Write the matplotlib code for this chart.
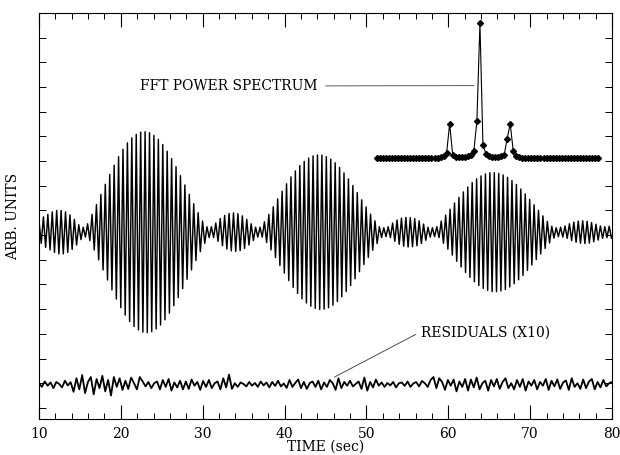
import numpy as np
import matplotlib
matplotlib.use("Agg")
import matplotlib.pyplot as plt
from matplotlib.ticker import MultipleLocator

plt.rcParams['font.family'] = ['DejaVu Serif']

# carrier peak amplitudes, one per cycle (arb. units)
signal_peaks = [
    0.45, 0.62, 0.72, 0.82, 0.88, 0.88, 0.82, 0.70, 0.52, 0.30,
    0.20,
    0.34, 0.72, 1.12, 1.53, 1.94, 2.34, 2.71, 3.06, 3.36, 3.62, 3.82, 3.96, 4.05,
    4.07, 4.03, 3.92, 3.76, 3.55, 3.28, 2.98, 2.65, 2.29, 1.91, 1.53, 1.15, 0.79, 0.45,
    0.22, 0.22,
    0.37, 0.55, 0.68, 0.76, 0.78, 0.75, 0.66, 0.52, 0.34,
    0.20, 0.20,
    0.42, 0.72, 1.03, 1.35, 1.66, 1.96, 2.24, 2.48, 2.70, 2.87, 3.00, 3.09, 3.13,
    3.12, 3.06, 2.96, 2.81, 2.62, 2.40, 2.16, 1.89, 1.60, 1.31, 1.02, 0.73, 0.46,
    0.22, 0.18, 0.22,
    0.37, 0.49, 0.57, 0.60, 0.59, 0.55, 0.46, 0.33,
    0.20, 0.18,
    0.22, 0.45, 0.69, 0.93, 1.18, 1.41, 1.63, 1.83, 2.01, 2.16, 2.28, 2.36, 2.41,
    2.41, 2.38, 2.32, 2.22, 2.09, 1.93, 1.75, 1.55, 1.33, 1.11, 0.88, 0.66, 0.44,
    0.24, 0.18, 0.20,
    0.25, 0.34, 0.41, 0.45, 0.46, 0.44, 0.39, 0.32, 0.25, 0.22, 0.24,
]
signal_center = 7.12
t_start, t_end = 10.0, 80.0
half_period = 0.27

# residuals (x10)
residuals = [
    0.05, -0.10, 0.12, -0.05, 0.08, -0.15, 0.10, 0.02, -0.12, 0.15, -0.04, 0.09,
    -0.30, 0.25, -0.20, 0.38, -0.35, 0.10, 0.30, -0.40, 0.22, -0.15, 0.35, -0.28,
    0.18, -0.45, 0.30, -0.10, 0.25,
    -0.22, 0.15, -0.18, 0.28, 0.05, -0.20, 0.30, 0.12, -0.08, 0.10, -0.15, 0.05,
    0.12, -0.20, 0.18, -0.10, 0.22, -0.25, 0.08, -0.12,
    0.15, -0.20, 0.12, -0.18, 0.20, -0.05, 0.10, -0.22, 0.14, -0.10, 0.18, -0.15,
    0.05, 0.12, -0.20, 0.25, -0.12,
    0.40, -0.18, 0.05, -0.10, 0.08, 0.02, -0.08, 0.10, -0.05, 0.06, -0.10, 0.12,
    -0.04, 0.08,
    -0.12, 0.10, -0.06, 0.15, -0.08, 0.04, -0.14, 0.18, -0.10, 0.06, 0.20, -0.15,
    0.10, -0.18, 0.05, 0.12, -0.10, 0.15, -0.20, 0.08,
    -0.10, 0.18, 0.05, -0.22, 0.25, -0.15, 0.10, -0.05, 0.15, -0.08, 0.02, 0.12,
    -0.18, 0.28, -0.25, 0.10, -0.12, 0.20, -0.05, 0.08,
    -0.10, 0.06, -0.04, 0.10, -0.12, 0.05, 0.08, -0.06, 0.12, -0.10, 0.04, 0.10,
    -0.08, 0.14, 0.05, -0.10, 0.18,
    0.30, -0.15, 0.25, 0.10, -0.22, 0.18, -0.05, 0.20, -0.28, 0.12, -0.10, 0.22,
    -0.25, 0.20, -0.12, 0.28, -0.20, 0.05, 0.15, -0.25, 0.18, -0.08, 0.22, -0.18,
    0.10, 0.25, -0.15, 0.05, -0.20, 0.18, -0.10, 0.22, -0.25, 0.12, -0.05,
    0.18, -0.20, 0.10, -0.05, 0.22, -0.22, 0.15, -0.08, 0.20, -0.18, 0.08, 0.16,
    -0.22, 0.25, -0.10, 0.05, -0.18, 0.20, -0.15, 0.12, 0.22, -0.20, 0.10, -0.12,
    0.18, -0.08, 0.05, 0.10,
]
resid_offset = 0.95

# FFT power spectrum (relative), one value per frequency bin
fft_power = [
    0.004, 0.004, 0.004, 0.004, 0.004, 0.004, 0.004, 0.004, 0.005, 0.005,
    0.005, 0.005, 0.005, 0.005, 0.006, 0.006, 0.006, 0.007, 0.007, 0.008,
    0.009, 0.012, 0.020, 0.045, 0.260, 0.030, 0.015, 0.012, 0.012, 0.015,
    0.020, 0.030, 0.060, 0.280, 1.000, 0.100, 0.040, 0.022, 0.016, 0.014,
    0.016, 0.020, 0.030, 0.150, 0.260, 0.060, 0.020, 0.012, 0.009, 0.008,
    0.007, 0.006, 0.006, 0.005, 0.005, 0.005, 0.005, 0.004, 0.004, 0.004,
    0.004, 0.004, 0.004, 0.004, 0.004, 0.004, 0.004, 0.004, 0.004, 0.004,
    0.004, 0.004, 0.004, 0.004,
]

x_ticks = [10, 20, 30, 40, 50, 60, 70, 80]
x_ticklabels = ['10', '20', '30', '40', '50', '60', '70', '80']

fig = plt.figure(figsize=(6.2, 4.55), dpi=100)
ax = fig.add_axes([39 / 620, 1 - 419 / 455, 573 / 620, 406 / 455])

# zigzag through the carrier peaks and troughs
amps = np.repeat(signal_peaks, 2)
signs = np.tile([1, -1], len(signal_peaks))
t_sig = t_start + half_period * np.arange(len(amps))
ax.plot(t_sig, signal_center + signs * amps, color='black', lw=1.05)

t_res = np.linspace(t_start, t_end, len(residuals))
ax.plot(t_res, resid_offset + np.array(residuals), color='black', lw=1.3)

ax.set_xlim(t_start, t_end)
ax.set_ylim(-0.45, 16.0)
ax.set_xticks(x_ticks)
ax.set_xticklabels(x_ticklabels)
ax.xaxis.set_minor_locator(MultipleLocator(2))
ax.yaxis.set_major_locator(MultipleLocator(1))
ax.set_yticklabels([])
ax.tick_params(axis='x', which='major', direction='in', length=10, width=0.8,
               top=True, labelsize=10, pad=6)
ax.tick_params(axis='x', which='minor', direction='in', length=4.5, width=0.7, top=True)
ax.tick_params(axis='y', which='major', direction='in', length=5, width=0.7, right=True)
for s in ax.spines.values():
    s.set_linewidth(0.8)

ax.set_xlabel('TIME (sec)', fontsize=10, labelpad=-1)
ax.set_ylabel('ARB. UNITS', fontsize=10, labelpad=10)

# inset spectrum
ins = fig.add_axes([377 / 620, 1 - 159 / 455, 221 / 620, 136 / 455])
bins = np.arange(len(fft_power))
ins.plot(bins, fft_power, color='black', lw=0.8, marker='D', ms=3.0, clip_on=False)
ins.set_xlim(0, len(fft_power) - 1)
ins.set_ylim(0, 1)
ins.axis('off')

ax.annotate('FFT POWER SPECTRUM', xy=(32, 0.54), xycoords=ins.transData,
            xytext=(0.176, 0.82), textcoords='axes fraction',
            fontsize=10, va='center', ha='left',
            arrowprops=dict(arrowstyle='-', color='0.35', lw=0.7,
                            shrinkA=4, shrinkB=0))

ax.annotate('RESIDUALS (X10)', xy=(46.1, 1.25), xycoords='data',
            xytext=(0.667, 0.212), textcoords='axes fraction',
            fontsize=10, va='center', ha='left',
            arrowprops=dict(arrowstyle='-', color='0.3', lw=0.7,
                            shrinkA=2, shrinkB=0, relpos=(0, 0.6)))

fig.savefig('out.png', dpi=100)
